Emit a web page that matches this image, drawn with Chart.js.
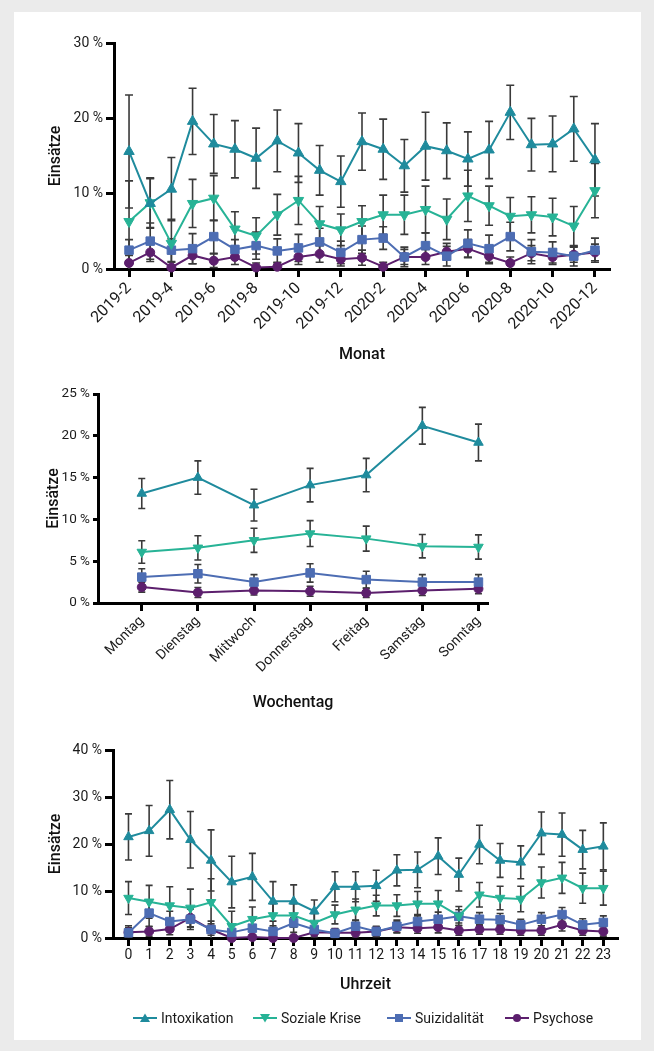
<!DOCTYPE html>
<html>
<head>
<meta charset="utf-8">
<script src="https://cdn.jsdelivr.net/npm/chart.js@4.4.1/dist/chart.umd.min.js"></script>
<style>
html,body{margin:0;padding:0;background:#ebebeb;}
body{width:654px;height:1051px;position:relative;overflow:hidden;font-family:Roboto,"Liberation Sans",sans-serif;}
#panel{position:absolute;left:14px;top:12px;width:627px;height:1028px;background:#fff;}
canvas{position:absolute;left:0;}
#c1{top:0px;} #c2{top:370px;} #c3{top:720px;}
.lg{position:absolute;top:1009px;height:18px;display:flex;align-items:center;font-size:14px;color:#1a1a1a;white-space:nowrap;}
.lg svg{margin-right:4px;}
</style>
</head>
<body>
<div id="panel"></div>
<canvas id="c1" width="654" height="370"></canvas>
<canvas id="c2" width="654" height="350"></canvas>
<canvas id="c3" width="654" height="290"></canvas>
<div id="legend"></div>
<script>
// ---------- DATA ----------
const months = ['2019-2','2019-3','2019-4','2019-5','2019-6','2019-7','2019-8','2019-9','2019-10','2019-11','2019-12',
  '2020-1','2020-2','2020-3','2020-4','2020-5','2020-6','2020-7','2020-8','2020-9','2020-10','2020-11','2020-12'];
const intoxMonth    = [15.6, 8.7, 10.6, 19.6, 16.6, 15.9, 14.7, 17.0, 15.4, 13.1, 11.6, 16.9, 15.9, 13.7, 16.3, 15.7, 14.6, 15.8, 20.8, 16.5, 16.6, 18.6, 14.5];
const intoxMonthErr = [7.5, 3.3, 4.2, 4.4, 3.9, 3.8, 4.0, 4.1, 3.9, 3.3, 3.4, 3.8, 4.0, 3.5, 4.5, 3.7, 3.6, 3.8, 3.6, 3.5, 3.7, 4.3, 4.8];
const sozialMonth    = [6.3, 8.8, 3.4, 8.7, 9.4, 5.3, 4.4, 7.2, 9.1, 6.0, 5.2, 6.3, 7.2, 7.2, 7.9, 6.6, 9.7, 8.4, 7.0, 7.2, 6.9, 5.7, 10.4];
const sozialMonthErr = [5.4, 3.3, 3.2, 3.2, 3.0, 2.3, 2.4, 2.7, 3.2, 2.3, 2.1, 2.1, 2.6, 2.6, 3.1, 2.7, 3.4, 2.6, 2.5, 2.4, 2.5, 2.6, 3.6];
const suizidMonth    = [2.5, 3.7, 2.5, 2.7, 4.3, 2.6, 3.1, 2.4, 2.8, 3.6, 2.2, 3.9, 4.1, 1.6, 3.1, 1.7, 3.4, 2.7, 4.3, 2.3, 2.2, 1.7, 2.5];
const suizidMonthErr = [1.4, 2.4, 1.5, 2.0, 2.2, 1.3, 1.8, 1.6, 1.8, 1.8, 1.5, 1.8, 1.5, 1.3, 1.7, 1.3, 1.8, 1.8, 1.9, 1.6, 1.4, 1.3, 1.6];
const psychMonth    = [0.8, 2.2, 0.2, 1.8, 1.1, 1.6, 0.2, 0.3, 1.6, 2.0, 1.3, 1.5, 0.3, 1.6, 1.6, 2.3, 2.7, 1.7, 0.8, 2.1, 1.6, 1.9, 2.2];
const psychMonthErr = [1.0, 1.2, 0.7, 1.1, 0.9, 1.0, 0.6, 0.6, 1.0, 1.1, 0.9, 1.0, 0.6, 1.0, 1.0, 1.1, 1.2, 1.0, 0.8, 1.0, 1.0, 1.0, 1.1];

const days = ['Montag','Dienstag','Mittwoch','Donnerstag','Freitag','Samstag','Sonntag'];
const intoxDay     = [13.1, 15.0, 11.7, 14.1, 15.3, 21.2, 19.2];
const intoxDayErr  = [1.8, 2.0, 1.9, 2.0, 2.0, 2.2, 2.2];
const sozialDay    = [6.1, 6.6, 7.5, 8.3, 7.7, 6.8, 6.7];
const sozialDayErr = [1.35, 1.45, 1.45, 1.55, 1.5, 1.4, 1.45];
const suizidDay    = [3.1, 3.5, 2.5, 3.6, 2.8, 2.5, 2.5];
const suizidDayErr = [1.0, 1.1, 0.9, 1.1, 1.0, 0.9, 0.9];
const psychDay     = [1.9, 1.25, 1.5, 1.4, 1.2, 1.5, 1.7];
const psychDayErr  = [0.6, 0.6, 0.55, 0.6, 0.55, 0.6, 0.6];

const hours = ['0','1','2','3','4','5','6','7','8','9','10','11','12','13','14','15','16','17','18','19','20','21','22','23'];
const intoxHour     = [21.5, 22.8, 27.3, 20.9, 16.5, 11.9, 13.0, 7.8, 7.8, 5.7, 10.9, 10.9, 11.1, 14.4, 14.5, 17.4, 13.5, 19.9, 16.5, 16.1, 22.3, 22.0, 18.8, 19.5];
const intoxHourErr  = [4.9, 5.4, 6.2, 6.0, 6.5, 5.5, 5.0, 4.2, 3.5, 2.4, 3.2, 3.2, 3.3, 3.3, 3.8, 3.9, 3.5, 4.1, 3.6, 3.5, 4.5, 4.6, 4.1, 5.0];
const sozialHour    = [8.5, 7.7, 6.9, 6.4, 7.6, 2.5, 4.0, 4.8, 4.8, 3.2, 5.0, 6.0, 6.9, 6.9, 7.3, 7.3, 4.7, 9.2, 8.5, 8.3, 11.8, 12.8, 10.6, 10.6];
const sozialHourErr = [3.5, 3.5, 4.0, 4.0, 5.0, 3.2, 2.6, 2.5, 2.5, 2.0, 2.0, 2.3, 2.2, 2.3, 2.6, 2.8, 2.0, 2.6, 2.5, 2.7, 3.3, 3.3, 3.2, 3.6];
const suizidHour    = [1.1, 5.3, 3.5, 4.0, 1.8, 1.2, 2.1, 1.4, 3.2, 1.8, 1.0, 2.5, 1.4, 2.5, 3.5, 4.0, 4.6, 4.0, 3.9, 2.8, 4.0, 5.0, 2.8, 3.3];
const suizidHourErr = [1.5, 2.8, 2.2, 2.2, 1.8, 1.5, 1.7, 1.2, 2.0, 1.3, 0.9, 1.3, 1.1, 1.3, 1.5, 1.5, 1.4, 1.4, 1.3, 1.2, 1.4, 1.5, 1.3, 1.4];
const psychHour     = [1.2, 1.4, 1.9, 4.3, 1.8, 0.0, 0.2, 0.0, 0.0, 1.2, 1.1, 1.1, 1.4, 2.3, 2.1, 2.3, 1.6, 1.8, 1.8, 1.6, 1.6, 2.8, 1.6, 1.4];
const psychHourErr  = [1.0, 1.0, 1.2, 2.0, 1.2, 0.5, 0.5, 0.5, 0.5, 1.0, 0.9, 0.9, 1.0, 1.2, 1.1, 1.2, 1.0, 1.0, 1.0, 1.0, 1.0, 1.3, 1.0, 1.0];

const seriesNames = ['Intoxikation', 'Soziale Krise', 'Suizidalität', 'Psychose'];

// ---------- STYLE ----------
const COLORS = ['#1f8b9d', '#27b396', '#4d6db3', '#5c1f6d'];
const STYLES = [
  {pointStyle:'triangle', rotation:0},
  {pointStyle:'triangle', rotation:180},
  {pointStyle:'rect', rotation:0},
  {pointStyle:'circle', rotation:0}
];
const FONT = 'Roboto, "Liberation Sans", sans-serif';
Chart.defaults.font.family = FONT;

const errorBars = {
  id: 'errorBars',
  beforeDatasetsDraw(chart, args, opts) {
    const ctx = chart.ctx, ys = chart.scales.y;
    ctx.save();
    ctx.strokeStyle = opts.color;
    ctx.lineWidth = opts.width;
    chart.data.datasets.forEach((ds, di) => {
      const meta = chart.getDatasetMeta(di);
      meta.data.forEach((pt, i) => {
        const v = ds.data[i].y, e = ds.errors[i];
        const top = ys.getPixelForValue(v + e);
        const bot = ys.getPixelForValue(Math.max(v - e, 0));
        const x = pt.x, c = opts.cap;
        ctx.beginPath();
        ctx.moveTo(x, top); ctx.lineTo(x, bot);
        ctx.moveTo(x - c, top); ctx.lineTo(x + c, top);
        if (v - e > 0) { ctx.moveTo(x - c, bot); ctx.lineTo(x + c, bot); }
        ctx.stroke();
      });
    });
    ctx.restore();
  }
};

function makeSets(valuesList, errorsList, radii) {
  return valuesList.map((vals, k) => ({
    label: seriesNames[k],
    data: vals.map((v, i) => ({x: i, y: v})),
    errors: errorsList[k],
    borderColor: COLORS[k],
    backgroundColor: COLORS[k],
    pointBackgroundColor: COLORS[k],
    pointBorderColor: COLORS[k],
    pointBorderWidth: 1,
    borderWidth: 2,
    pointRadius: radii[k],
    pointStyle: STYLES[k].pointStyle,
    pointRotation: STYLES[k].rotation,
    tension: 0,
    clip: false
  }));
}

function makeChart(id, o) {
  return new Chart(document.getElementById(id), {
    type: 'line',
    data: { datasets: o.sets },
    plugins: [errorBars],
    options: {
      responsive: false,
      animation: false,
      events: [],
      layout: { padding: o.pad },
      plugins: {
        legend: { display: false },
        tooltip: { enabled: false },
        errorBars: { color: '#3a3a3a', width: 1.6, cap: o.cap }
      },
      scales: {
        x: {
          type: 'linear', min: o.xMin, max: o.xMax,
          afterBuildTicks: s => { s.ticks = o.labels.map((_, i) => ({value: i})).filter(t => t.value % o.every === 0); },
          afterFit: s => { s.height = o.xHeight; },
          grid: { drawOnChartArea: false, drawTicks: true, tickLength: 8, tickWidth: 3, tickColor: '#000' },
          border: { display: true, width: 3, color: '#000' },
          ticks: { autoSkip: false, maxRotation: o.rot, minRotation: o.rot, padding: o.xTickPad, color: '#1a1a1a',
                   font: { size: o.xFont }, callback: v => o.labels[v] },
          title: { display: true, text: o.xTitle, color: '#111', font: { size: 16, weight: '500' },
                   padding: { top: 0, bottom: o.xTitlePad } }
        },
        y: {
          min: 0, max: o.yMax,
          afterFit: s => { s.width = o.yWidth; },
          grid: { drawOnChartArea: false, drawTicks: true, tickLength: o.yTickLen, tickWidth: 3, tickColor: '#000' },
          border: { display: true, width: 3, color: '#000' },
          ticks: { stepSize: o.yStep, padding: 3, color: '#1a1a1a', font: { size: o.yFont }, callback: v => v + ' %' },
          title: { display: true, text: 'Einsätze', color: '#111', font: { size: 16, weight: '500' },
                   padding: { top: o.yTitlePad, bottom: 0 } }
        }
      }
    }
  });
}

makeChart('c1', {
  labels: months, every: 2, xMin: -0.71, xMax: 22.71, yMax: 30, yStep: 10,
  sets: makeSets([intoxMonth, sozialMonth, suizidMonth, psychMonth],
                 [intoxMonthErr, sozialMonthErr, suizidMonthErr, psychMonthErr], [6, 6, 6, 4.5]),
  pad: { left: 0, right: 44, top: 43, bottom: 0 }, yWidth: 114, xHeight: 101,
  rot: 45, xTickPad: 2, xFont: 16, yFont: 14, yTickLen: 8,
  xTitle: 'Monat', xTitlePad: 5, yTitlePad: 46, cap: 4
});

makeChart('c2', {
  labels: days, every: 1, xMin: -0.78, xMax: 6.17, yMax: 25, yStep: 5,
  sets: makeSets([intoxDay, sozialDay, suizidDay, psychDay],
                 [intoxDayErr, sozialDayErr, suizidDayErr, psychDayErr], [5.5, 5.5, 6, 4.5]),
  pad: { left: 0, right: 166, top: 24, bottom: 0 }, yWidth: 98, xHeight: 117,
  rot: 45, xTickPad: 2, xFont: 14, yFont: 13.5, yTickLen: 5,
  xTitle: 'Wochentag', xTitlePad: 7, yTitlePad: 44, cap: 3.5
});

makeChart('c3', {
  labels: hours, every: 1, xMin: -0.75, xMax: 23.71, yMax: 40, yStep: 10,
  sets: makeSets([intoxHour, sozialHour, suizidHour, psychHour],
                 [intoxHourErr, sozialHourErr, suizidHourErr, psychHourErr], [5.5, 5.5, 6, 4.5]),
  pad: { left: 0, right: 36, top: 30, bottom: 0 }, yWidth: 113, xHeight: 72,
  rot: 0, xTickPad: 1, xFont: 14, yFont: 14, yTickLen: 8,
  xTitle: 'Uhrzeit', xTitlePad: 15, yTitlePad: 46, cap: 3.5
});

// ---------- LEGEND ----------
const legendLefts = [133, 253, 387, 505];
const shapes = [
  c => `<polygon points="12,1.5 17,10 7,10" fill="${c}"/>`,
  c => `<polygon points="7,2 17,2 12,10.5" fill="${c}"/>`,
  c => `<rect x="8" y="2" width="8" height="8" fill="${c}"/>`,
  c => `<circle cx="12" cy="6" r="4" fill="${c}"/>`
];
const lg = document.getElementById('legend');
seriesNames.forEach((name, k) => {
  const d = document.createElement('div');
  d.className = 'lg';
  d.style.left = legendLefts[k] + 'px';
  d.innerHTML = `<svg width="24" height="12"><line x1="0" y1="6" x2="24" y2="6" stroke="${COLORS[k]}" stroke-width="2"/>${shapes[k](COLORS[k])}</svg><span>${name}</span>`;
  lg.appendChild(d);
});
</script>
</body>
</html>
